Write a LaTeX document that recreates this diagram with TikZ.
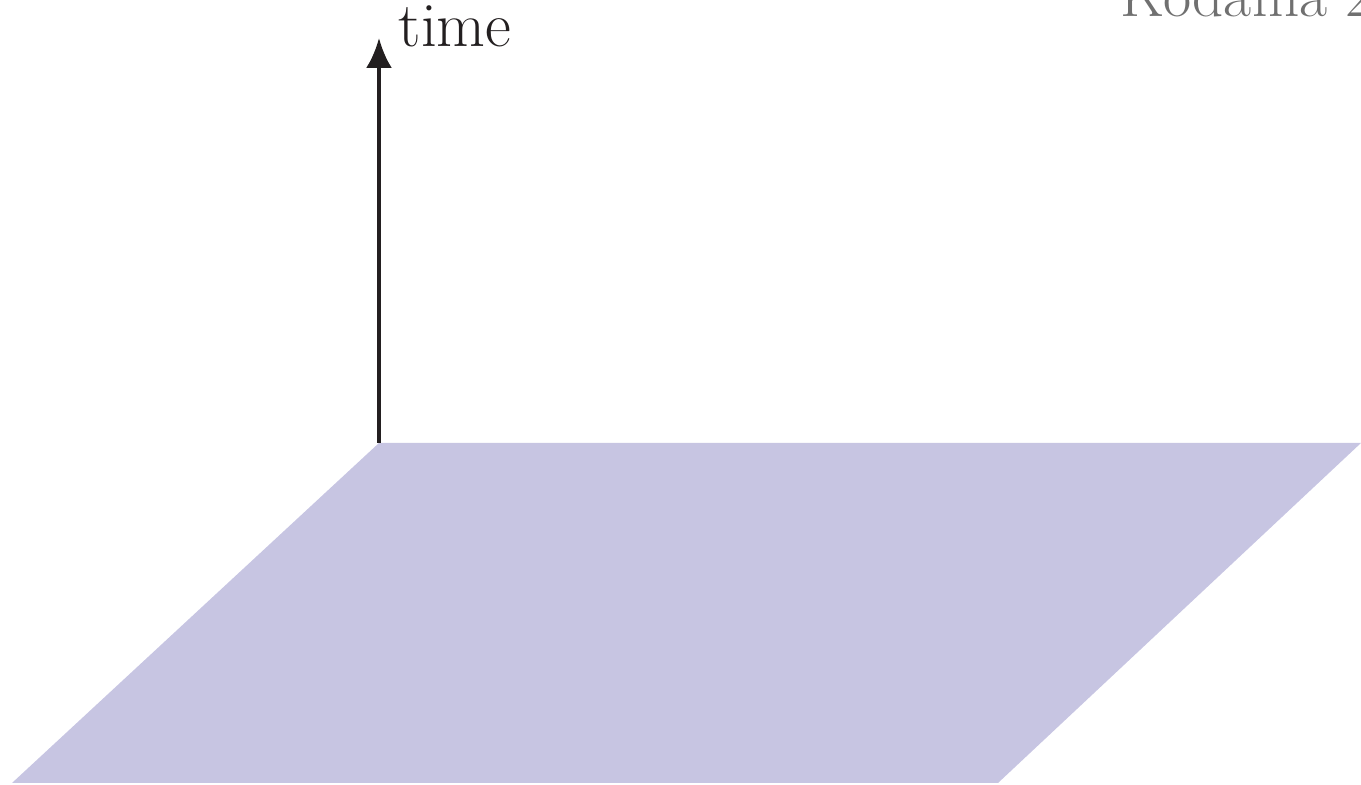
\documentclass[tikz,border=0pt]{standalone}
\usepackage{xcolor}
\usetikzlibrary{arrows.meta, positioning}
\definecolor{planecol}{HTML}{C7C5E2}
\definecolor{notegray}{HTML}{707070}
\definecolor{axisblack}{HTML}{231F20}

\begin{document}
\begin{tikzpicture}[
    label/.style={inner sep=0pt, font=\fontsize{18}{22}\selectfont},
    arrow/.style={-{Latex[length=0.3cm, width=0.26cm]}, line width=0.04cm, draw=axisblack}
]
\useasboundingbox (0,0) rectangle (13.61,7.85);
\clip (0,0) rectangle (13.61,7.85);

% --- Plane ---
\coordinate (p1) at (0.12,0.02);
\coordinate (p2) at (9.98,0.02);
\coordinate (p3) at (13.61,3.42);
\coordinate (origin) at (3.79,3.42);
\fill[planecol] (p1) -- (p2) -- (p3) -- (origin) -- cycle;

% --- Time axis ---
\coordinate (tip) at (3.79,7.47);
\draw[arrow] (origin) -- (tip);
\node[label, anchor=base west, text=axisblack] (time) at (3.98,7.38) {time};

% --- Note ---
\node[label, anchor=base west, text=notegray, font=\fontsize{17.4}{21}\selectfont] (note) at (11.20,7.68) {Kodama 2};

\end{tikzpicture}
\end{document}
